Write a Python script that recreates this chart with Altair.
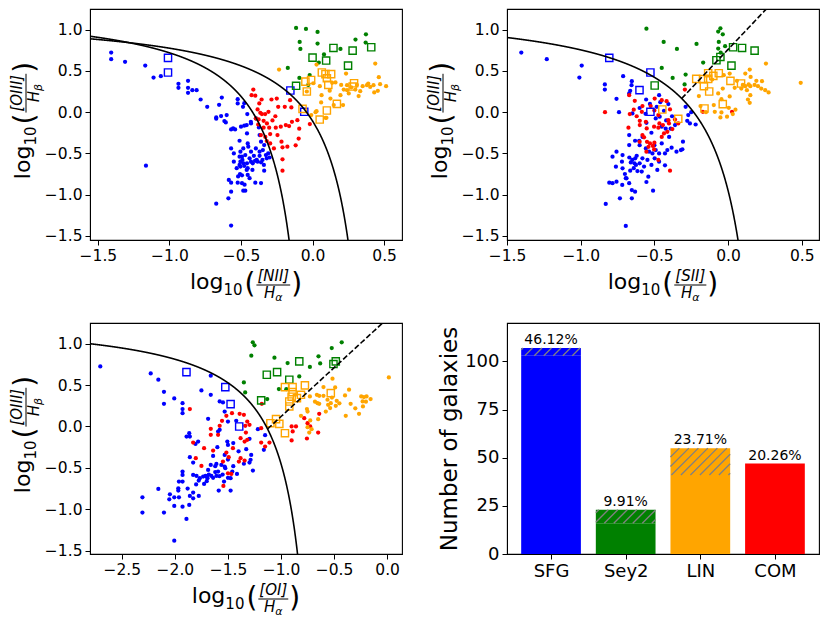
import altair as alt
import pandas as pd

CLASSES = ["SFG", "Sey2", "LIN", "COM"]
COLORS = ["#0000ff", "#008000", "#ffa500", "#ff0000"]
LIGHT = ["#8080ff", "#80c080", "#ffd280", "#ff8080"]

# ---------------- Panel 1: log([NII]/Ha) vs log([OIII]/Hb) ----------------
nii_sfg = [(-1.407,0.722),(-1.407,0.641),(-1.31,0.61),(-1.169,0.565),(-1.111,0.419),(-1.06,0.435),(-0.937,0.343),(-0.937,0.294),(-0.87,0.379),(-0.87,0.294),(-0.87,0.234),(-0.84,0.266),(-0.81,0.266),(-1.164,-0.649),
(-0.782,0.153),(-0.736,0.065),(-0.653,0.089),(-0.634,0.177),(-0.673,-0.064),(-0.673,-0.08),(-0.639,-0.048),(-0.60,-0.036),(-0.616,-0.109),(-0.606,-0.125),(-0.523,0.157),(-0.523,0.105),(-0.486,0.065),(-0.456,-0.024),(-0.555,-0.197),(-0.569,-0.21),(-0.541,-0.21),(-0.50,-0.177),(-0.43,-0.137),(-0.46,-0.157),(-0.37,-0.278),(-0.36,-0.359),(-0.338,-0.399),(-0.51,-0.347),(-0.453,-0.379),(-0.569,-0.44),(-0.484,-0.44),(-0.449,-0.419),(-0.504,-0.48),(-0.43,-0.48),(-0.396,-0.44),(-0.37,-0.48),(-0.347,-0.46),(-0.326,-0.52),(-0.31,-0.50),(-0.51,-0.54),(-0.493,-0.54),(-0.47,-0.52),(-0.504,-0.60),(-0.483,-0.62),(-0.51,-0.64),(-0.458,-0.62),(-0.43,-0.60),(-0.402,-0.59),(-0.384,-0.60),(-0.36,-0.608),(-0.504,-0.66),(-0.477,-0.653),(-0.453,-0.68),(-0.418,-0.62),(-0.507,-0.75),(-0.493,-0.766),(-0.453,-0.762),(-0.338,-0.71),(-0.40,-0.855),(-0.585,-0.822),(-0.569,-0.855),(-0.523,-0.855),(-0.493,-0.862),(-0.569,-0.964),(-0.484,-0.952),(-0.47,-0.952),(-0.588,-1.044),(-0.673,-1.11),(-0.569,-1.375),(-0.375,-0.185),(-0.396,-0.077),(-0.431,-0.117),(-0.477,0.109),(-0.477,-0.165),(-0.458,-0.258),(-0.37,-0.53),(-0.35,-0.58),(-0.32,-0.56),(-0.44,-0.56),(-0.42,-0.70),(-0.39,-0.58),(-0.46,-0.70),(-0.55,-0.60),(-0.53,-0.68),(-0.49,-0.58),(-0.41,-0.53),(-0.34,-0.64),(-0.52,-0.78),(-0.44,-0.80),(-0.36,-0.86),(-0.30,-0.55),(-0.55,-0.50),(-0.475,-0.88)]
nii_sfg_sq = [(-1.01,0.657),(-1.01,0.48),(-0.155,0.262),(-0.058,0.004)]
nii_com = [(-0.414,0.274),(-0.426,0.206),(-0.356,0.153),(-0.372,0.105),(-0.384,0.032),(-0.365,-0.008),(-0.354,-0.024),(-0.331,-0.024),(-0.308,0.004),(-0.396,-0.077),(-0.377,-0.089),(-0.287,0.153),(-0.25,0.165),(-0.24,0.065),(-0.194,0.065),(-0.157,0.145),(-0.148,0.057),(-0.342,-0.105),(-0.319,-0.137),(-0.342,-0.189),(-0.303,-0.189),(-0.257,-0.189),(-0.222,-0.177),(-0.187,-0.157),(-0.164,-0.169),(-0.296,-0.266),(-0.245,-0.278),(-0.361,-0.278),(-0.217,-0.359),(-0.176,-0.419),(-0.21,-0.427),(-0.118,-0.403),(-0.296,-0.379),(-0.21,-0.572),(-0.21,-0.71),(-0.106,-0.097),(-0.019,-0.145),(-0.144,-0.117),(-0.093,-0.2),(-0.097,-0.32),(-0.27,-0.44),(-0.33,-0.30),(-0.28,-0.10),(-0.38,-0.15),(-0.32,-0.35),(-0.26,-0.05),(-0.40,0.20)]
nii_sey = [(-0.115,1.02),(-0.046,1.008),(0.035,0.972),(-0.09,0.851),(-0.085,0.766),(0.035,0.831),(0.195,0.766),(0.373,0.943),(0.371,0.843),(-0.173,0.536),(-0.092,0.415),(-0.03,0.33),(0.044,0.601),(-0.02,0.45),(0.08,0.70),(0.30,0.88)]
nii_sey_sq = [(0.146,0.778),(0.28,0.746),(0.41,0.786),(0.0,0.661),(0.095,0.625),(0.248,0.564),(-0.115,0.319)]
nii_lin = [(-0.234,0.516),(0.028,0.576),(0.234,0.468),(0.438,0.589),(0.463,0.423),(0.389,0.347),(0.426,0.327),(0.472,0.339),(0.514,0.315),(0.431,0.238),(0.35,0.315),(0.241,0.327),(0.218,0.274),(0.241,0.266),(0.253,0.226),(0.137,0.355),(0.051,0.315),(0.063,0.206),(0.125,0.165),(0.195,0.206),(0.06,0.117),(0.213,0.085),(0.021,0.0),(-0.009,-0.036),(0.097,-0.069),(0.456,0.258),(0.38,0.327),(0.403,0.306),(0.322,0.194),(0.299,0.274),(0.333,0.254),(0.148,0.085),(0.028,0.012),(0.09,-0.069),(0.27,0.30),(0.31,0.33),(0.16,0.36),(0.20,0.33),(-0.04,0.25),(0.005,0.35),(0.12,0.26)]
nii_lin_sq = [(0.065,0.48),(0.09,0.46),(0.13,0.46),(0.10,0.41),(-0.05,0.37),(-0.01,0.39),(0.11,0.33),(0.28,0.31),(0.29,0.35),(-0.04,0.25),(0.17,0.10),(-0.07,0.04),(0.10,0.02),(0.05,-0.09)]

# ---------------- Panel 2: log([SII]/Ha) vs log([OIII]/Hb) ----------------
sii_sfg = [(-1.403,0.722),(-1.23,0.641),(-0.993,0.565),(-1.009,0.419),(-0.836,0.335),(-0.836,0.274),(-0.712,0.435),(-0.757,0.161),(-0.653,0.375),(-0.655,0.327),(-0.664,0.258),(-0.671,0.226),(-0.556,0.153),(-0.468,0.206),(-0.484,0.065),(-0.405,0.097),(-0.435,0.016),(-0.649,-0.016),(-0.491,-0.077),(-0.464,-0.056),(-0.554,-0.129),(-0.288,0.065),(-0.27,-0.036),(-0.259,-0.137),(-0.277,-0.105),(-0.45,-0.177),(-0.423,-0.2),(-0.39,-0.2),(-0.36,-0.157),(-0.671,-0.278),(-0.671,-0.399),(-0.631,-0.347),(-0.603,-0.347),(-0.558,-0.44),(-0.536,-0.48),(-0.513,-0.5),(-0.491,-0.46),(-0.468,-0.5),(-0.45,-0.379),(-0.428,-0.5),(-0.412,-0.46),(-0.383,-0.431),(-0.306,-0.359),(-0.32,-0.46),(-0.757,-0.48),(-0.784,-0.54),(-0.716,-0.52),(-0.67,-0.55),(-0.65,-0.58),(-0.63,-0.56),(-0.62,-0.53),(-0.635,-0.62),(-0.66,-0.61),(-0.625,-0.64),(-0.581,-0.56),(-0.547,-0.58),(-0.498,-0.56),(-0.468,-0.6),(-0.428,-0.645),(-0.761,-0.661),(-0.716,-0.681),(-0.664,-0.71),(-0.615,-0.714),(-0.586,-0.72),(-0.541,-0.782),(-0.554,-0.847),(-0.694,-0.8),(-0.671,-0.862),(-0.806,-0.855),(-0.784,-0.862),(-0.757,-0.843),(-0.653,-0.944),(-0.631,-0.964),(-0.509,-0.952),(-0.734,-1.044),(-0.653,-1.044),(-0.83,-1.113),(-0.694,-1.379),(-0.718,-0.883),(-0.689,-0.802),(-0.60,-0.40),(-0.58,-0.30),(-0.52,-0.25),(-0.50,-0.40),(-0.40,-0.30),(-0.35,-0.48),(-0.70,-0.75),(-0.60,-0.62),(-0.57,-0.66),(-0.64,-0.68),(-0.72,-0.60),(-0.52,-0.64),(-0.48,-0.70),(-0.25,0.0),(-0.22,-0.15),(-0.31,-0.45),(-0.74,0.00),(-0.60,0.05),(-0.56,-0.02),(-0.53,0.10),(-0.46,0.12),(-0.42,-0.10),(-0.38,-0.05)]
sii_sfg_sq = [(-0.806,0.657),(-0.527,0.48),(-0.601,0.266),(-0.527,0.004)]
sii_com = [(-0.671,0.206),(-0.835,0.0),(-0.633,0.137),(-0.498,0.165),(-0.45,0.145),(-0.417,0.133),(-0.581,0.073),(-0.525,0.073),(-0.667,-0.024),(-0.585,0.004),(-0.394,0.032),(-0.473,-0.036),(-0.405,-0.097),(-0.599,-0.105),(-0.599,-0.157),(-0.558,-0.117),(-0.552,-0.197),(-0.502,-0.177),(-0.473,-0.189),(-0.442,-0.157),(-0.401,-0.137),(-0.378,-0.205),(-0.338,-0.137),(-0.435,-0.258),(-0.412,-0.238),(-0.581,-0.278),(-0.57,-0.306),(-0.55,-0.36),(-0.53,-0.38),(-0.50,-0.37),(-0.54,-0.42),(-0.51,-0.41),(-0.554,-0.48),(-0.502,-0.452),(-0.676,-0.189),(-0.473,-0.58),(-0.394,-0.71),(-0.293,0.274),(-0.171,0.004),(0.027,0.004),(-0.466,-0.137),(-0.62,-0.05),(-0.64,0.03),(-0.50,0.02),(-0.36,-0.09),(-0.45,-0.30),(-0.60,-0.36)]
sii_sey = [(-0.554,1.012),(-0.437,0.851),(-0.347,0.766),(-0.214,0.827),(-0.067,0.976),(-0.052,1.016),(-0.036,0.943),(-0.063,0.851),(-0.067,0.77),(-0.169,0.601),(-0.45,0.536),(-0.376,0.415),(-0.288,0.455),(-0.295,0.335),(-0.05,0.72),(-0.02,0.80)]
sii_sey_sq = [(0.034,0.786),(0.095,0.778),(0.18,0.746),(-0.052,0.669),(-0.079,0.629),(0.023,0.564),(-0.498,0.323)]
sii_lin = [(0.257,0.589),(0.147,0.516),(0.117,0.468),(0.153,0.427),(0.192,0.379),(0.23,0.375),(0.203,0.315),(0.225,0.286),(0.252,0.266),(0.275,0.238),(0.14,0.335),(0.151,0.315),(0.128,0.266),(0.151,0.206),(0.135,0.153),(0.147,0.113),(0.493,0.355),(0.117,0.315),(0.09,0.286),(0.011,0.468),(-0.029,0.448),(0.045,0.294),(0.011,0.19),(-0.036,0.286),(-0.067,0.226),(-0.097,0.085),(0.005,0.052),(0.032,-0.024),(-0.007,-0.056),(-0.052,-0.065),(-0.09,0.004),(-0.045,-0.004),(-0.198,0.194),(-0.187,0.073),(-0.045,0.157),(-0.108,0.395),(0.06,0.38),(0.10,0.33),(0.18,0.33),(-0.15,0.00),(0.05,0.03)]
sii_lin_sq = [(-0.216,0.403),(-0.135,0.472),(-0.135,0.403),(-0.063,0.472),(-0.164,0.315),(-0.128,0.25),(0.016,0.379),(0.088,0.347),(-0.036,0.097),(-0.16,0.044),(-0.446,0.032),(-0.338,-0.081),(-0.17,0.40),(-0.10,0.44)]

# ---------------- Panel 3: log([OI]/Ha) vs log([OIII]/Hb) ----------------
oi_sfg = [(-2.703,0.726),(-2.228,0.641),(-2.156,0.565),(-2.103,0.419),(-2.103,0.274),(-2.006,0.339),(-1.928,0.282),(-1.928,0.21),(-1.928,0.161),(-2.306,-0.855),(-2.306,-1.04),(-2.156,-0.754),(-2.103,-1.04),(-2.006,-1.379),(-1.891,-1.117),(-1.75,0.435),(-1.662,0.613),(-1.662,0.383),(-1.578,0.302),(-1.547,0.29),(-1.687,0.093),(-1.531,0.181),(-1.5,0.06),(-1.593,-0.061),(-1.578,-0.04),(-1.865,-0.081),(-1.859,-0.121),(-1.89,-0.121),(-1.781,-0.182),(-1.806,-0.21),(-1.506,-0.182),(-1.5,-0.222),(-1.531,-0.343),(-1.422,0.068),(-1.297,-0.149),(-1.328,-0.274),(-1.281,-0.343),(-1.287,-0.403),(-1.297,-0.435),(-1.265,-0.532),(-1.218,-0.032),(-1.162,-0.282),(-1.15,-0.105),(-1.64,-0.355),(-1.859,-0.371),(-1.828,-0.435),(-1.687,-0.524),(-1.662,-0.464),(-1.609,-0.452),(-1.562,-0.464),(-1.531,-0.484),(-1.525,-0.504),(-1.459,-0.544),(-1.415,-0.573),(-1.475,-0.625),(-1.537,-0.665),(-1.475,-0.774),(-1.593,-0.544),(-1.609,-0.597),(-1.656,-0.597),(-1.693,-0.625),(-1.712,-0.597),(-1.734,-0.605),(-1.765,-0.625),(-1.775,-0.653),(-1.796,-0.597),(-1.828,-0.585),(-1.725,-0.694),(-1.928,-0.544),(-1.928,-0.585),(-1.962,-0.665),(-1.928,-0.665),(-1.968,-0.746),(-1.968,-0.774),(-1.828,-0.798),(-1.859,-0.839),(-1.828,-0.867),(-1.775,-0.839),(-2.047,-0.819),(-2.053,-0.879),(-2.006,-0.855),(-1.962,-0.855),(-2.006,-0.96),(-1.928,-0.968),(-1.865,-0.948),(-1.587,-0.774),(-1.70,-0.60),(-1.68,-0.58),(-1.64,-0.62),(-1.62,-0.55),(-1.58,-0.60),(-1.55,-0.58),(-1.50,-0.62),(-1.45,-0.48),(-1.40,-0.30),(-1.35,-0.45),(-1.62,-0.48),(-1.70,-0.66),(-1.80,-0.70),(-1.88,-0.75),(-1.50,-0.40),(-1.45,-0.20),(-1.60,-0.25)]
oi_sfg_sq = [(-1.891,0.657),(-1.525,0.476),(-1.475,0.27),(-1.394,0.0)]
oi_com = [(-1.859,0.21),(-1.662,-0.028),(-1.662,-0.101),(-1.556,0.068),(-1.515,0.129),(-1.462,0.161),(-1.578,0.008),(-1.593,-0.101),(-1.39,0.153),(-1.35,0.141),(-1.318,0.06),(-1.297,0.02),(-1.337,0.008),(-1.381,-0.141),(-1.331,-0.073),(-1.343,-0.182),(-1.318,-0.161),(-1.187,-0.02),(-1.828,-0.194),(-1.725,-0.262),(-1.64,-0.29),(-1.515,-0.315),(-1.453,-0.262),(-1.493,-0.371),(-1.803,-0.383),(-1.75,-0.476),(-1.547,-0.423),(-1.381,-0.383),(-1.343,-0.411),(-1.397,-0.423),(-1.5,-0.565),(-1.468,-0.573),(-1.543,-0.718),(-1.181,0.274),(-1.187,-0.194),(-1.109,-0.194),(-1.15,-0.242),(-0.9,0.0),(-0.859,0.0),(-0.89,-0.06),(-0.64,0.153),(-0.75,0.04),(-0.725,0.0),(-0.756,-0.145),(-0.9,-0.169),(-0.65,-0.073),(-0.781,0.101)]
oi_sey = [(-1.266,1.016),(-1.25,0.98),(-1.28,0.855),(-1.35,0.532),(-1.338,0.411),(-1.13,0.331),(-1.062,0.831),(-0.938,0.766),(-0.828,0.605),(-0.728,0.72),(-0.647,0.847),(-0.631,0.762),(-0.522,0.948),(-0.428,1.016),(-1.02,0.452),(-0.95,0.45)]
oi_sey_sq = [(-1.134,0.625),(-1.037,0.657),(-0.922,0.565),(-0.828,0.786),(-0.506,0.754),(-0.484,0.786),(-1.187,0.315)]
oi_lin = [(-0.515,0.577),(0.016,0.593),(-0.6,0.476),(-0.49,0.472),(-0.662,0.383),(-0.64,0.371),(-0.6,0.371),(-0.728,0.363),(-0.656,0.282),(-0.64,0.274),(-0.562,0.323),(-0.531,0.282),(-0.475,0.31),(-0.556,0.262),(-0.484,0.25),(-0.397,0.375),(-0.359,0.444),(-0.344,0.274),(-0.265,0.153),(-0.244,0.363),(-0.219,0.355),(-0.194,0.363),(-0.156,0.331),(-0.231,0.302),(-0.228,0.242),(-0.39,0.129),(-0.756,0.21),(-0.75,0.181),(-0.725,0.073),(-0.75,-0.008),(-0.712,-0.032),(-0.734,-0.073),(-0.65,0.089),(-0.578,0.181),(-0.537,0.222),(-0.812,0.129),(-0.45,0.28),(-0.30,0.22),(-0.68,0.30),(-0.52,0.35),(-0.20,0.30)]
oi_lin_sq = [(-0.963,0.476),(-0.891,0.476),(-0.891,0.415),(-0.775,0.496),(-0.922,0.302),(-0.922,0.242),(-0.85,0.343),(-0.812,0.383),(-0.531,0.403),(-1.1,0.04),(-1.047,0.089),(-1.016,0.032),(-0.963,-0.081),(-0.9,0.36)]

# ---------------- Panel 4: class counts ----------------
bar_cats = ["SFG", "Sey2", "LIN", "COM"]
bar_solid = [103, 16, 41, 47]
bar_total = [107, 23, 55, 47]

PW, PH = 312, 231
FONT = "DejaVu Sans"
TICK_FS = 15.5
color_scale = alt.Scale(domain=CLASSES, range=COLORS)

CW = {'l':0.278,'o':0.612,'g':0.635,'1':0.636,'0':0.636,'(':0.390,')':0.390,'[':0.390,']':0.390,
      'N':0.748,'I':0.295,'O':0.787,'S':0.635,'H':0.752,'α':0.659,'β':0.635}
def tw(s, size):
    return sum(CW.get(c, 0.6) for c in s) * size

ONE = alt.Data(values=[{"a": 1}])

def txt(s, px, py, size, style, align, baseline, angle):
    return alt.Chart(ONE).mark_text(text=s, font=FONT, fontSize=size, fontStyle=style, align=align,
                                    baseline=baseline, angle=angle, color="black").encode(
        x=alt.value(px), y=alt.value(py))

def frac_title(num, sub, orient):
    F, S, P, R, RS = 22, 15, 28, 15, 11
    w_log = tw("log", F); w_sub = tw("10", S); w_p = 0.39 * P
    w_den = tw("H", R) + tw(sub, RS)
    wf = max(tw(num, R), w_den) + 4
    W = w_log + w_sub + 2 + w_p + wf + w_p
    lv = 4
    up = w_log + w_sub + 2
    uf = up + w_p
    ud = uf + (wf - w_den) / 2
    items = [("log", 0, 0, F, "normal", "left", "alphabetic"),
             ("10", w_log, -6, S, "normal", "left", "alphabetic"),
             ("(", up, lv, P, "normal", "left", "middle"),
             (num, uf + wf / 2, lv + 4, R, "italic", "center", "alphabetic"),
             ("H", ud, lv - 13, R, "italic", "left", "alphabetic"),
             (sub, ud + tw("H", R), lv - 16, RS, "italic", "left", "alphabetic"),
             (")", uf + wf, lv, P, "normal", "left", "middle")]
    layers = []
    if orient == "x":
        x0 = PW / 2 - W / 2
        base = PH + 49
        for s, u, v, size, st, al, bl in items:
            layers.append(txt(s, x0 + u, base - v, size, st, al, bl, 0))
        layers.append(alt.Chart(ONE).mark_rule(color="black", strokeWidth=1).encode(
            x=alt.value(x0 + uf + 1), x2=alt.value(x0 + uf + wf - 1), y=alt.value(base - lv)))
    else:
        bx = -60
        y0 = PH / 2 - 4 + W / 2
        for s, u, v, size, st, al, bl in items:
            layers.append(txt(s, bx - v, y0 - u, size, st, al, bl, 270))
        layers.append(alt.Chart(ONE).mark_rule(color="black", strokeWidth=1).encode(
            x=alt.value(bx - lv), y=alt.value(y0 - uf - 1), y2=alt.value(y0 - uf - wf + 1)))
    return layers

def to_df(groups):
    rows = []
    for cls, pts in groups:
        for x, y in pts:
            rows.append({"x": x, "y": y, "cls": cls})
    return pd.DataFrame(rows)

def bpt_panel(dots, squares, xdom, ydom, xticks, curves, num):
    X = alt.X("x:Q", scale=alt.Scale(domain=xdom, nice=False, zero=False),
              axis=alt.Axis(values=xticks, format=".1f", title=None))
    Y = alt.Y("y:Q", scale=alt.Scale(domain=ydom, nice=False, zero=False),
              axis=alt.Axis(values=[-1.5, -1.0, -0.5, 0.0, 0.5, 1.0], format=".1f", title=None))
    C = alt.Color("cls:N", scale=color_scale, legend=None)
    layers = [
        alt.Chart(to_df(dots)).mark_circle(size=18, opacity=1).encode(x=X, y=Y, color=C),
        alt.Chart(to_df(squares)).mark_square(size=52, filled=False, strokeWidth=1.4, opacity=1).encode(x=X, y=Y, color=C),
    ]
    for (a, b, step, expr, dash) in curves:
        mk = dict(color="black", strokeWidth=1.6, clip=True)
        if dash:
            mk["strokeDash"] = [5.5, 2.4]
        layers.append(alt.Chart(alt.sequence(a, b, step, as_="x"))
                      .transform_calculate(y=expr)
                      .transform_filter("datum.y > -1.7")
                      .mark_line(**mk).encode(x=X, y=Y))
    layers += frac_title(num[0], num[1], "x")
    layers += frac_title("[OIII]", "β", "y")
    return alt.layer(*layers).properties(width=PW, height=PH)

p1 = bpt_panel([("SFG", nii_sfg), ("COM", nii_com), ("Sey2", nii_sey), ("LIN", nii_lin)],
               [("SFG", nii_sfg_sq), ("Sey2", nii_sey_sq), ("LIN", nii_lin_sq)],
               [-1.555, 0.625], [-1.55, 1.25], [-1.5, -1.0, -0.5, 0.0, 0.5],
               [(-1.6, 0.049, 0.001, "0.61/(datum.x-0.05)+1.3", False),
                (-1.6, 0.469, 0.001, "0.61/(datum.x-0.47)+1.19", False)],
               ("[NII]", "α"))
p2 = bpt_panel([("SFG", sii_sfg), ("COM", sii_com), ("Sey2", sii_sey), ("LIN", sii_lin)],
               [("SFG", sii_sfg_sq), ("Sey2", sii_sey_sq), ("LIN", sii_lin_sq)],
               [-1.5, 0.617], [-1.55, 1.25], [-1.5, -1.0, -0.5, 0.0, 0.5],
               [(-1.55, 0.319, 0.001, "0.72/(datum.x-0.32)+1.30", False),
                (-0.3146, 0.32, 0.005, "1.89*datum.x+0.76", True)],
               ("[SII]", "α"))
p3 = bpt_panel([("SFG", oi_sfg), ("COM", oi_com), ("Sey2", oi_sey), ("LIN", oi_lin)],
               [("SFG", oi_sfg_sq), ("Sey2", oi_sey_sq), ("LIN", oi_lin_sq)],
               [-2.80, 0.14], [-1.54, 1.25], [-2.5, -2.0, -1.5, -1.0, -0.5, 0.0],
               [(-2.85, -0.591, 0.001, "0.73/(datum.x+0.59)+1.33", False),
                (-1.127, 0.0, 0.005, "1.18*datum.x+1.30", True)],
               ("[OI]", "α"))

# ---- bar panel ----
bar_df = pd.DataFrame({"cat": bar_cats, "idx": list(range(len(bar_cats))),
                       "solid": bar_solid, "total": bar_total})
XD = [-0.59, 3.59]
YD = [0, 120]
Xb = alt.X("xl:Q", scale=alt.Scale(domain=XD, nice=False, zero=False),
           axis=alt.Axis(values=[0, 1, 2, 3], labelExpr="['SFG','Sey2','LIN','COM'][datum.value]",
                         title=None, labelFontSize=18))
Yb = alt.Y("solid:Q", scale=alt.Scale(domain=YD, nice=False, zero=True),
           axis=alt.Axis(values=[0, 25, 50, 75, 100], title="Number of galaxies", titleFontSize=23,
                         titlePadding=3, labelFontSize=18))
base = alt.Chart(bar_df).transform_calculate(xl="datum.idx-0.4", xr="datum.idx+0.4", z0="0")
solid = base.mark_rect().encode(x=Xb, x2="xr:Q", y=Yb, y2="z0:Q",
                                color=alt.Color("cat:N", scale=color_scale, legend=None))
light = base.transform_filter("datum.total > datum.solid").mark_rect().encode(
    x=Xb, x2="xr:Q", y=Yb, y2="total:Q",
    color=alt.Color("cat:N", scale=alt.Scale(domain=CLASSES, range=LIGHT), legend=None))

# hatch segments (45 degree in pixel space) clipped to the extra part of each bar
sx = PW / (XD[1] - XD[0]); sy = PH / (YD[1] - YD[0])
segs = []
for i, (s, t) in enumerate(zip(bar_solid, bar_total)):
    if t <= s:
        continue
    u0, u1 = (i - 0.4 - XD[0]) * sx, (i + 0.4 - XD[0]) * sx
    v0, v1 = s * sy, t * sy
    k = int((v0 - u1) // 9.5) - 1
    while k * 9.5 < v1 - u0:
        c = k * 9.5
        ua, ub = max(u0, v0 - c), min(u1, v1 - c)
        if ub > ua + 0.5:
            segs.append({"hx": ua / sx + XD[0], "hy": (ua + c) / sy,
                         "hx2": ub / sx + XD[0], "hy2": (ub + c) / sy})
        k += 1
hatch = alt.Chart(pd.DataFrame(segs)).mark_rule(color="#808080", strokeWidth=1.3).encode(
    x=alt.X("hx:Q", scale=alt.Scale(domain=XD, nice=False, zero=False)),
    y=alt.Y("hy:Q", scale=alt.Scale(domain=YD, nice=False)),
    x2="hx2:Q", y2="hy2:Q")
labels = base.transform_joinaggregate(grand="sum(total)").transform_calculate(
    pct="format(datum.total/datum.grand*100, '.2f') + '%'").mark_text(
    font=FONT, fontSize=14, dy=-4, baseline="alphabetic", color="black").encode(
    x=alt.X("idx:Q", scale=alt.Scale(domain=XD, nice=False, zero=False)),
    y=alt.Y("total:Q", scale=alt.Scale(domain=YD, nice=False)), text="pct:N")
p4 = alt.layer(solid, light, hatch, labels).properties(width=PW, height=PH)

chart = alt.concat(p1, p2, p3, p4, columns=2, spacing={"row": 83, "column": 105}, bounds="flush").configure_view(
    stroke="black", strokeWidth=1.1).configure_axis(
    labelFont=FONT, labelFontSize=TICK_FS, labelColor="black", tickColor="black", domainColor="black",
    tickSize=5, tickWidth=1, domainWidth=1, grid=False, labelPadding=3, labelFlush=False,
    labelOverlap=False, titleFont=FONT, titleColor="black", titleFontWeight="normal").properties(
    padding={"left": 1, "top": 0, "right": 0, "bottom": 0})

chart.save("out.html", embed_options={"renderer": "svg", "actions": False})
